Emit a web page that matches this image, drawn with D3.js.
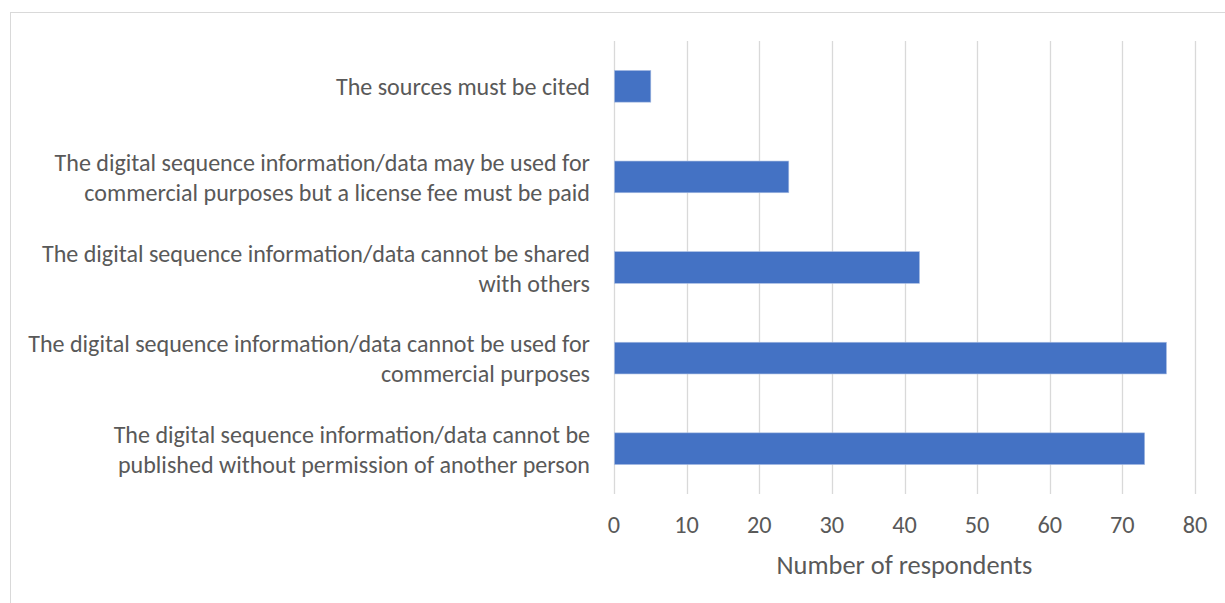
<!DOCTYPE html>
<html>
<head>
<meta charset="utf-8">
<script src="https://cdn.jsdelivr.net/npm/d3@7"></script>
<style>
  html, body { margin: 0; padding: 0; background: #fff; }
  svg { display: block; }
  text { font-family: Carlito, Lato, "Open Sans", sans-serif; fill: #595959; }
</style>
</head>
<body>
<svg id="chart" width="1225" height="603"></svg>
<script>
// Survey responses: restrictions on using digital sequence information
const categories = [
  ["The sources must be cited"],
  ["The digital sequence information/data may be used for", "commercial purposes but a license fee must be paid"],
  ["The digital sequence information/data cannot be shared", "with others"],
  ["The digital sequence information/data cannot be used for", "commercial purposes"],
  ["The digital sequence information/data cannot be", "published without permission of another person"]
];
const values = [5, 24, 42, 76, 73];
const xTicks = [0, 10, 20, 30, 40, 50, 60, 70, 80];
const xTitle = "Number of respondents";

const W = 1225, H = 603;
const plot = { left: 614, right: 1195, top: 41, bottom: 494 };

const svg = d3.select("#chart");

// outer chart frame
svg.append("rect")
  .attr("x", 10.5).attr("y", 12.5)
  .attr("width", W + 10).attr("height", H + 10)
  .attr("fill", "none").attr("stroke", "#d9d9d9").attr("stroke-width", 1);

const x = d3.scaleLinear().domain([0, 80]).range([plot.left, plot.right]);
const y = d3.scaleBand()
  .domain(d3.range(categories.length))
  .range([plot.top, plot.bottom])
  .paddingInner(0.65).paddingOuter(0.325);

// vertical gridlines
svg.append("g")
  .selectAll("line")
  .data(xTicks)
  .join("line")
  .attr("x1", d => Math.round(x(d)) + 0.5).attr("x2", d => Math.round(x(d)) + 0.5)
  .attr("y1", plot.top).attr("y2", plot.bottom)
  .attr("stroke", "#d9d9d9").attr("stroke-width", 1.3);

// bars
svg.append("g")
  .selectAll("rect")
  .data(values)
  .join("rect")
  .attr("x", x(0) + 0.5)
  .attr("y", (d, i) => y(i))
  .attr("width", d => x(d) - x(0))
  .attr("height", y.bandwidth())
  .attr("fill", "#4472c4")
  .attr("stroke", "#a9bde3").attr("stroke-width", 0.6);

// fit a font size so a reference string spans a given width
function fitSize(str, targetW, base) {
  const t = svg.append("text").attr("font-size", base).text(str);
  const w = t.node().getComputedTextLength();
  t.remove();
  return base * targetW / w;
}

const catSize = fitSize("The digital sequence information/data cannot be used for", 562, 20);
const tickSize = fitSize("Number of respondents", 256, 20) * 0.92;
const titleSize = fitSize("Number of respondents", 256, 20);

// category labels
const lineGap = 30;
const labels = svg.append("g");
categories.forEach((lines, i) => {
  const cy = y(i) + y.bandwidth() / 2;
  const t = labels.append("text")
    .attr("text-anchor", "end")
    .attr("font-size", catSize)
    .attr("dominant-baseline", "central");
  lines.forEach((ln, j) => {
    t.append("tspan")
      .attr("x", 590)
      .attr("y", cy + (j - (lines.length - 1) / 2) * lineGap)
      .text(ln);
  });
});

// x tick labels
svg.append("g")
  .selectAll("text")
  .data(xTicks)
  .join("text")
  .attr("x", d => x(d))
  .attr("y", 525)
  .attr("text-anchor", "middle")
  .attr("dominant-baseline", "central")
  .attr("font-size", tickSize)
  .text(d => d);

// axis title
svg.append("text")
  .attr("x", (plot.left + plot.right) / 2)
  .attr("y", 565)
  .attr("text-anchor", "middle")
  .attr("dominant-baseline", "central")
  .attr("font-size", titleSize)
  .text(xTitle);
</script>
</body>
</html>
